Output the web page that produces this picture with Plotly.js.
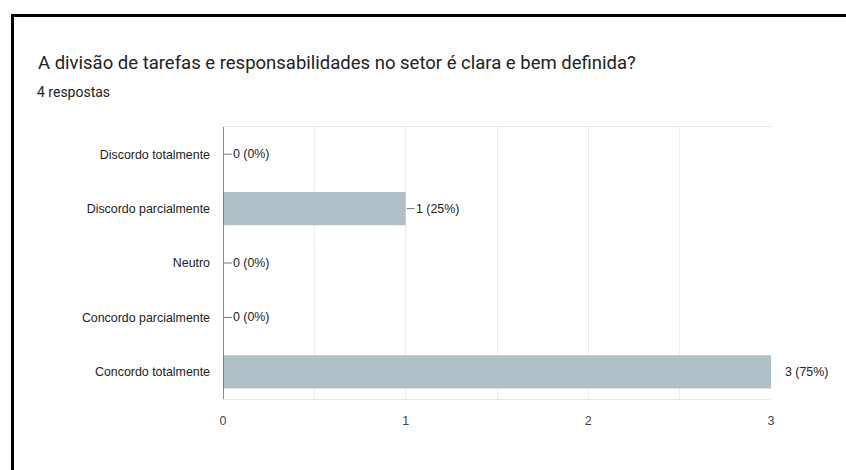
<!DOCTYPE html>
<html>
<head>
<meta charset="utf-8">
<script src="https://cdn.plot.ly/plotly-3.0.1.min.js"></script>
<style>
  html, body { margin: 0; padding: 0; background: #fff; }
  #wrap { position: relative; width: 846px; height: 470px; }
  #chart { width: 846px; height: 470px; }
  #frame { position: absolute; left: 11px; top: 14px; right: 0; bottom: 0;
           border-top: 3px solid #000; border-left: 3px solid #000; pointer-events: none; }
</style>
</head>
<body>
<div id="wrap">
  <div id="chart"></div>
  <div id="frame"></div>
</div>
<script>
const titleText = "A divisão de tarefas e responsabilidades no setor é clara e bem definida?";
const subtitleText = "4 respostas";
const categories = ["Discordo totalmente", "Discordo parcialmente", "Neutro", "Concordo parcialmente", "Concordo totalmente"];
const counts = [0, 1, 0, 0, 3];
const percents = [0, 25, 0, 0, 75];
const xTickVals = [0, 1, 2, 3];

const W = 846, H = 470;
const M = { l: 223, r: 75, t: 127, b: 71 };
const plotW = W - M.l - M.r, plotH = H - M.t - M.b;
const chartFont = '"Liberation Sans", Arial, sans-serif';
const headFont = 'Roboto, Arial, sans-serif';

const trace = {
  type: 'bar',
  orientation: 'h',
  x: counts,
  y: categories,
  marker: { color: '#b1c0c7' },
  width: 0.61,
  hoverinfo: 'none'
};

const shapes = counts.map((v, i) => ({
  type: 'line', xref: 'x', yref: 'y',
  xsizemode: 'pixel', xanchor: v, x0: 1, x1: 9,
  y0: categories[i], y1: categories[i],
  line: { color: '#777', width: 1 }
}));

const annotations = counts.map((v, i) => ({
  x: v, y: categories[i], xref: 'x', yref: 'y',
  text: v + ' (' + percents[i] + '%)',
  showarrow: false, xanchor: 'left', yanchor: 'middle',
  xshift: v === Math.max(...counts) ? 12 : 8,
  font: { family: chartFont, size: 12.4, color: '#222' }
}));

annotations.push({
  text: subtitleText, xref: 'paper', yref: 'paper',
  x: (37 - M.l) / plotW, y: (H - M.b - 92) / plotH,
  xanchor: 'left', yanchor: 'middle', showarrow: false, xshift: -2,
  font: { family: headFont, size: 14, color: '#222' }
});

const layout = {
  width: W, height: H,
  margin: M,
  paper_bgcolor: 'rgba(0,0,0,0)',
  plot_bgcolor: '#fff',
  showlegend: false,
  bargap: 0.39,
  title: {
    text: titleText,
    xref: 'container', yref: 'container',
    x: 38 / W, xanchor: 'left',
    y: 1 - 63 / H, yanchor: 'middle',
    font: { family: headFont, size: 18.5, color: '#222' }
  },
  xaxis: {
    range: [0, 3],
    tickvals: xTickVals,
    showgrid: true, gridcolor: '#ececec', gridwidth: 1,
    minor: { dtick: 0.5, showgrid: true, gridcolor: '#ececec', gridwidth: 1 },
    zeroline: false,
    showline: true, mirror: true, linecolor: '#e6e6e6', linewidth: 1,
    ticks: '', ticklabelstandoff: 10,
    tickfont: { family: chartFont, size: 12.5, color: '#444' },
    fixedrange: true
  },
  yaxis: {
    type: 'category',
    autorange: 'reversed',
    showgrid: false, zeroline: false,
    showline: false,
    ticks: '', ticklabelstandoff: 12,
    tickfont: { family: chartFont, size: 12.4, color: '#222' },
    fixedrange: true
  },
  shapes: shapes.concat([{
    type: 'line', xref: 'x', yref: 'paper', x0: 0, x1: 0, y0: 0, y1: 1,
    line: { color: '#666', width: 1.5 }
  }]),
  annotations: annotations
};

Plotly.newPlot('chart', [trace], layout, { displayModeBar: false, staticPlot: true });
</script>
</body>
</html>
